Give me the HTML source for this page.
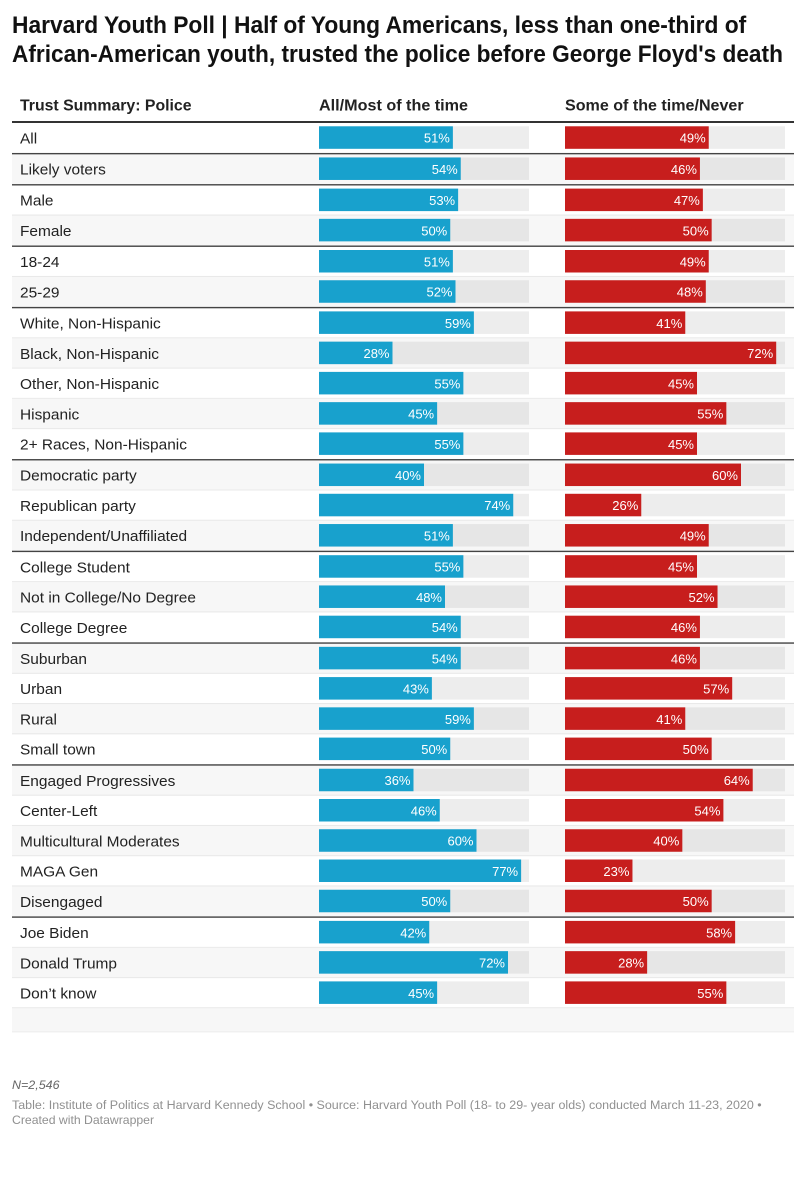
<!DOCTYPE html>
<html lang="en">
<head>
<meta charset="utf-8">
<title>Harvard Youth Poll</title>
<style>
html,body{margin:0;padding:0;background:#fff;width:805px;height:1200px;overflow:hidden}
svg{display:block;font-family:"Liberation Sans",sans-serif}
</style>
</head>
<body>
<svg id="chart" width="805" height="1200" viewBox="0 0 805 1200" xmlns="http://www.w3.org/2000/svg">
  <g transform="translate(12,33) scale(0.95,1)"><text font-size="24" font-weight="bold" fill="#111">Harvard Youth Poll | Half of Young Americans, less than one-third of</text></g>
  <g transform="translate(12,62) scale(0.945,1)"><text font-size="24" font-weight="bold" fill="#111">African-American youth, trusted the police before George Floyd's death</text></g>
  <g transform="translate(20,110.5) scale(0.99,1)"><text font-size="16" font-weight="bold" fill="#222">Trust Summary: Police</text></g>
  <g transform="translate(319,110.5) scale(1.01,1)"><text font-size="16" font-weight="bold" fill="#222">All/Most of the time</text></g>
  <g transform="translate(565,110.5) scale(1.005,1)"><text font-size="16" font-weight="bold" fill="#222">Some of the time/Never</text></g>
  <rect x="12" y="121" width="782" height="2" fill="#333"></rect>
  <g id="rows"></g>
  <g transform="translate(12,1089) scale(1.04,1)"><text font-size="12" font-style="italic" fill="#666">N=2,546</text></g>
  <g transform="translate(12,1109) scale(1.04,1)"><text font-size="12" fill="#909090">Table: Institute of Politics at Harvard Kennedy School • Source: Harvard Youth Poll (18- to 29- year olds) conducted March 11-23, 2020 •</text></g>
  <g transform="translate(12,1124) scale(1.02,1)"><text font-size="12" fill="#909090">Created with Datawrapper</text></g>
</svg>
<script>
const categories = ["All","Likely voters","Male","Female","18-24","25-29","White, Non-Hispanic","Black, Non-Hispanic","Other, Non-Hispanic","Hispanic","2+ Races, Non-Hispanic","Democratic party","Republican party","Independent/Unaffiliated","College Student","Not in College/No Degree","College Degree","Suburban","Urban","Rural","Small town","Engaged Progressives","Center-Left","Multicultural Moderates","MAGA Gen","Disengaged","Joe Biden","Donald Trump","Don’t know"];
const trustValues = [51,54,53,50,51,52,59,28,55,45,55,40,74,51,55,48,54,54,43,59,50,36,46,60,77,50,42,72,45];
const distrustValues = [49,46,47,50,49,48,41,72,45,55,45,60,26,49,45,52,46,46,57,41,50,64,54,40,23,50,58,28,55];
const groupStarts = ["Likely voters","Male","18-24","White, Non-Hispanic","Democratic party","College Student","Suburban","Engaged Progressives","Joe Biden"];
const trustDomainMax = 80;
const distrustDomainMax = 75;

const NS = "http://www.w3.org/2000/svg";
const root = document.getElementById("rows");
const trustX0 = 319, trustTrack = 210, distrustX0 = 565, distrustTrack = 220;
const rowH = 30.25, groupExtra = 0.9, barH = 22.5;
const trustScale = v => v / trustDomainMax * trustTrack;
const distrustScale = v => v / distrustDomainMax * distrustTrack;

function make(tag, attrs, parent) {
  const el = document.createElementNS(NS, tag);
  for (const k in attrs) el.setAttribute(k, attrs[k]);
  parent.appendChild(el);
  return el;
}

let rowTop = 123;
categories.forEach((cat, i) => {
  const isGroup = groupStarts.includes(cat);
  if (isGroup) rowTop += groupExtra;
  const shaded = i % 2 === 1;
  const slug = cat.toLowerCase().replace(/[^a-z0-9]+/g, "-");
  const g = make("g", {}, root);
  
  

  if (shaded) {
    const bg = make("rect", {x: 12, y: rowTop, width: 782, height: rowH, fill: "#f7f7f7"}, g);
    
    
  }
  if (isGroup) {
    const rule = make("rect", {x: 12, y: rowTop - 1.2, width: 782, height: 1.4, fill: "#444"}, g);
    
    
  } else if (i > 0) {
    const rule = make("rect", {x: 12, y: rowTop - 1, width: 782, height: 1, fill: "#e8e8e8"}, g);
    
    
  }

  const barY = rowTop + 3.3;
  const mid = rowTop + rowH / 2;
  const track = shaded ? "#e6e6e6" : "#ededed";

  const labelWrap = make("g", {transform: "translate(20," + (mid + 5.3) + ") scale(1.03,1)"}, g);
  const label = make("text", {"font-size": 15, fill: "#222"}, labelWrap);
  label.textContent = cat;
  
  

  const t1 = make("rect", {x: trustX0, y: barY, width: trustTrack, height: barH, fill: track}, g);
  
  
  const b1 = make("rect", {x: trustX0, y: barY, width: trustScale(trustValues[i]), height: barH, fill: "#18a1cd"}, g);
  
  
  const v1 = make("text", {x: trustX0 + trustScale(trustValues[i]) - 3, y: mid + 4.6, "text-anchor": "end", "font-size": 13, fill: "#fff"}, g);
  v1.textContent = trustValues[i] + "%";
  
  

  const t2 = make("rect", {x: distrustX0, y: barY, width: distrustTrack, height: barH, fill: track}, g);
  
  
  const b2 = make("rect", {x: distrustX0, y: barY, width: distrustScale(distrustValues[i]), height: barH, fill: "#c71e1d"}, g);
  
  
  const v2 = make("text", {x: distrustX0 + distrustScale(distrustValues[i]) - 3, y: mid + 4.6, "text-anchor": "end", "font-size": 13, fill: "#fff"}, g);
  v2.textContent = distrustValues[i] + "%";
  
  

  rowTop += rowH;
});

const endRule = make("rect", {x: 12, y: rowTop - 1, width: 782, height: 1, fill: "#e4e4e4"}, root);


const emptyRow = make("rect", {x: 12, y: rowTop, width: 782, height: 23, fill: "#f7f7f7"}, root);


const finalRule = make("rect", {x: 12, y: rowTop + 23, width: 782, height: 1, fill: "#ececec"}, root);


</script>
</body>
</html>
